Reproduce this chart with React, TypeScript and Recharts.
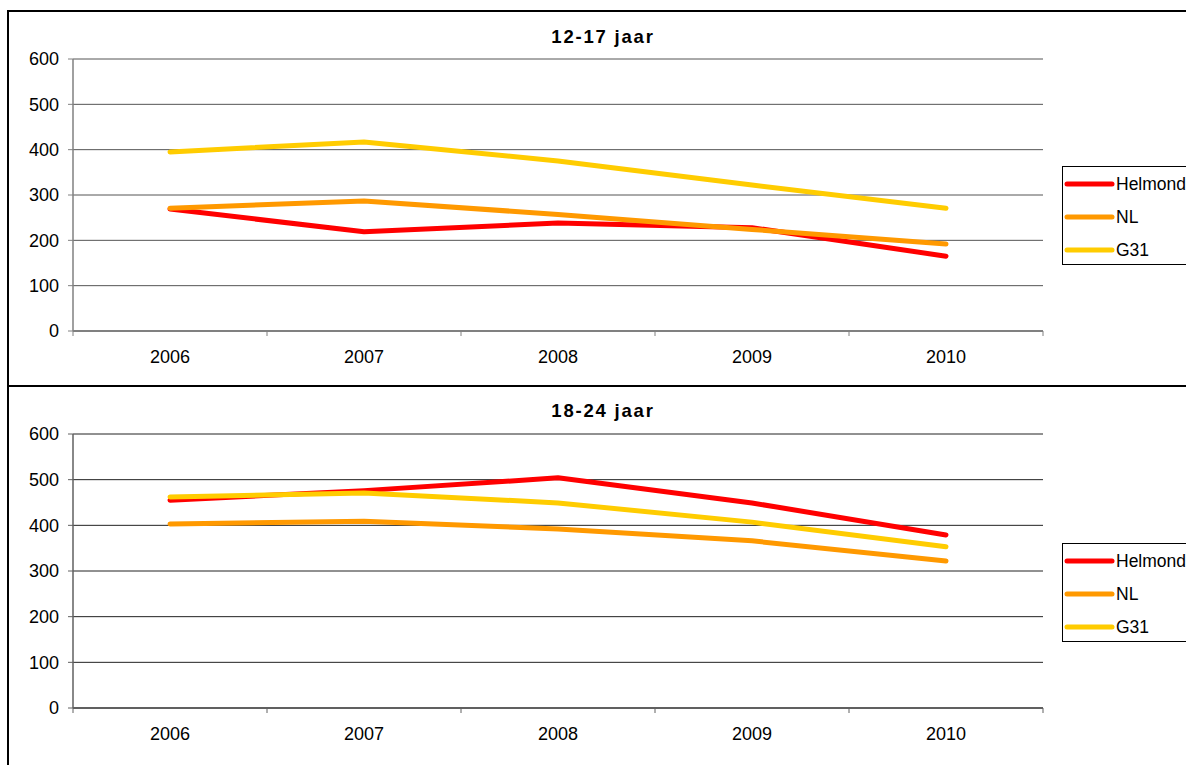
import React from 'react';
import { LineChart, Line, XAxis, YAxis, CartesianGrid, Legend } from 'recharts';

const years = ['2006', '2007', '2008', '2009', '2010'];

const helmond1217 = [269, 219, 238, 228, 165];
const nl1217 = [271, 287, 257, 224, 192];
const g31_1217 = [395, 417, 375, 322, 271];

const helmond1824 = [455, 476, 504, 449, 379];
const nl1824 = [403, 409, 392, 366, 322];
const g31_1824 = [462, 471, 449, 407, 353];

const yTicks = [0, 100, 200, 300, 400, 500, 600];
const seriesNames = ['Helmond', 'NL', 'G31'];
const seriesColors = ['#FF0000', '#FF9900', '#FFCC00'];

const FONT = '"Liberation Sans", Arial, sans-serif';
const CHART_W = 1200;
const PLOT_W = 970;
const HALF_BAND = PLOT_W / years.length / 2;
const TICK_SIZE = 5;
const TICK_MARGIN = 14;

function buildData(h: number[], n: number[], g: number[]) {
  return years.map((y, i) => ({ year: y, Helmond: h[i], NL: n[i], G31: g[i] }));
}

const data1217 = buildData(helmond1217, nl1217, g31_1217);
const data1824 = buildData(helmond1824, nl1824, g31_1824);

function makeXTick(axisColor: string) {
  return function XTick(props: any) {
    const { x, y, payload, index } = props;
    const axisY = y - TICK_SIZE - TICK_MARGIN;
    return (
      <g>
        <line x1={x - HALF_BAND} x2={x - HALF_BAND} y1={axisY} y2={axisY + TICK_SIZE} stroke={axisColor} strokeWidth={1} />
        {index === years.length - 1 && (
          <line x1={x + HALF_BAND} x2={x + HALF_BAND} y1={axisY} y2={axisY + TICK_SIZE} stroke={axisColor} strokeWidth={1} />
        )}
        <text x={x} y={y} dy="0.71em" textAnchor="middle" fontSize={18} fill="#000" fontFamily={FONT}>
          {payload.value}
        </text>
      </g>
    );
  };
}

function renderLegend(props: any) {
  const payload = props.payload || [];
  const ordered = seriesNames
    .map((n) => payload.find((p: any) => p.value === n || p.dataKey === n))
    .filter(Boolean);
  return (
    <div
      style={{
        border: '1px solid #000',
        background: '#fff',
        width: 140,
        height: 97,
        fontFamily: FONT,
        fontSize: 17.5,
        color: '#000',
      }}
    >
      {ordered.map((p: any) => (
        <div key={p.value} style={{ height: 33, display: 'flex', alignItems: 'center' }}>
          <svg width={53} height={10} style={{ display: 'block' }}>
            <line x1={4} x2={49} y1={5} y2={5} stroke={p.color} strokeWidth={5} strokeLinecap="round" />
          </svg>
          <span style={{ lineHeight: '20px' }}>{p.value}</span>
        </div>
      ))}
    </div>
  );
}

type PanelProps = {
  data: any[];
  height: number;
  marginBottom: number;
  gridColor: string;
  axisColor: string;
  legendTop: number;
};

function Panel({ data, height, marginBottom, gridColor, axisColor, legendTop }: PanelProps) {
  return (
    <LineChart
      width={CHART_W}
      height={height}
      data={data}
      margin={{ top: 47, right: CHART_W - 64 - PLOT_W, bottom: marginBottom, left: 0 }}
    >
      <CartesianGrid vertical={false} stroke={gridColor} strokeWidth={1} />
      <XAxis
        dataKey="year"
        interval={0}
        height={30}
        padding={{ left: HALF_BAND, right: HALF_BAND }}
        tickSize={TICK_SIZE}
        tickMargin={TICK_MARGIN}
        tickLine={false}
        axisLine={{ stroke: axisColor, strokeWidth: 2 }}
        tick={makeXTick(axisColor)}
      />
      <YAxis
        domain={[0, 600]}
        ticks={yTicks}
        interval={0}
        width={64}
        tickSize={5}
        tickMargin={9}
        tickLine={{ stroke: axisColor }}
        axisLine={{ stroke: axisColor, strokeWidth: 1.5 }}
        tick={{ fontSize: 18, fill: '#000', fontFamily: FONT }}
      />
      <YAxis
        yAxisId="right"
        orientation="right"
        domain={[0, 600]}
        width={0}
        tick={false}
        tickLine={false}
        axisLine={{ stroke: '#808080', strokeWidth: 1.5 }}
      />
      {seriesNames.map((name, i) => (
        <Line
          key={name}
          type="linear"
          dataKey={name}
          stroke={seriesColors[i]}
          strokeWidth={5}
          strokeLinecap="round"
          strokeLinejoin="round"
          dot={false}
          activeDot={false}
          isAnimationActive={false}
        />
      ))}
      <Legend
        layout="vertical"
        align="center"
        verticalAlign="middle"
        content={renderLegend}
        wrapperStyle={{ left: 1053, top: legendTop, width: 142, height: 99 }}
      />
    </LineChart>
  );
}

const titleStyle: React.CSSProperties = {
  position: 'absolute',
  left: 453,
  width: 300,
  textAlign: 'center',
  fontFamily: FONT,
  fontWeight: 'bold',
  fontSize: 18.5,
  lineHeight: '20px',
  letterSpacing: 1.8,
  color: '#000',
};

export default function App() {
  return (
    <div
      style={{
        position: 'fixed',
        left: 0,
        top: 0,
        width: 1186,
        height: 765,
        overflow: 'hidden',
        background: '#fff',
      }}
    >
      <div style={{ position: 'absolute', left: 9, top: 12 }}>
        <Panel data={data1217} height={373} marginBottom={24} gridColor="#555555" axisColor="#808080" legendTop={154} />
      </div>
      <div style={{ position: 'absolute', left: 9, top: 387 }}>
        <Panel data={data1824} height={378} marginBottom={27} gridColor="#222222" axisColor="#606060" legendTop={156} />
      </div>
      <div style={{ ...titleStyle, top: 27 }}>12-17 jaar</div>
      <div style={{ ...titleStyle, top: 401 }}>18-24 jaar</div>
      <div style={{ position: 'absolute', left: 7, top: 10, width: 2, height: 755, background: '#000' }} />
      <div style={{ position: 'absolute', left: 7, top: 10, width: 1179, height: 2, background: '#000' }} />
      <div style={{ position: 'absolute', left: 7, top: 385, width: 1179, height: 2, background: '#000' }} />
    </div>
  );
}
